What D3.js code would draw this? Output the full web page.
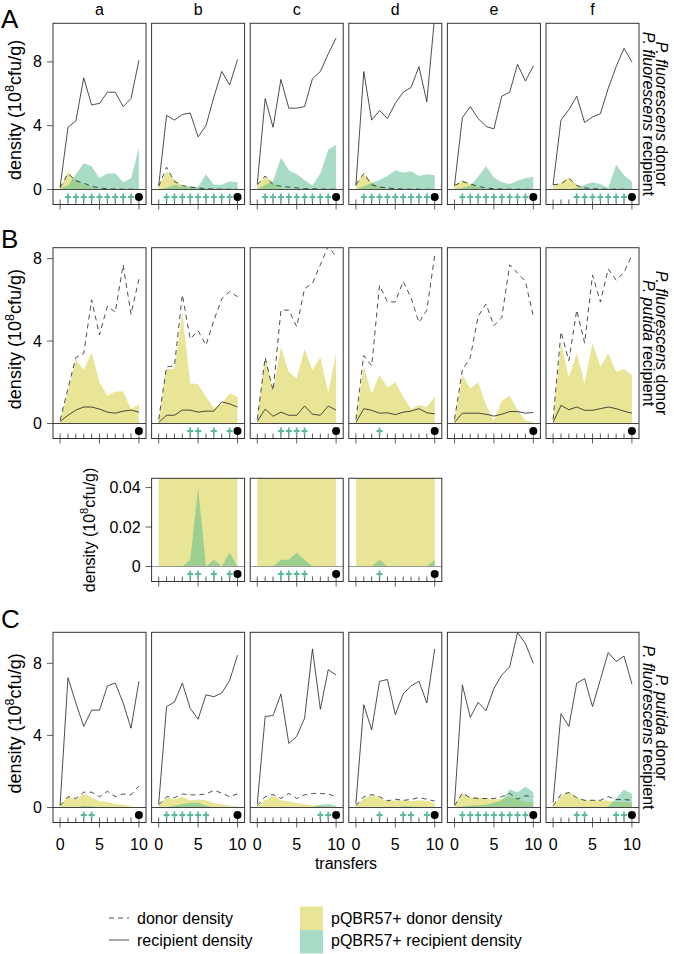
<!DOCTYPE html>
<html><head><meta charset="utf-8">
<script src="https://cdn.jsdelivr.net/npm/d3@7"></script>
<style>
body{margin:0;background:#fff}
svg{display:block}
text{font-family:"Liberation Sans",Arial,Helvetica,sans-serif;fill:#000}
</style>
</head><body>
<svg id="chart" width="674" height="954"></svg>
<script>
// ---------------- DATA ----------------
const transfers = [0,1,2,3,4,5,6,7,8,9,10];
const columns = ["a","b","c","d","e","f"];
const yTicksMain = [0,4,8];
const yTicksZoom = [0,0.02,0.04];
const xTickLabels = [0,5,10];

// Row A: P. fluorescens donor, P. fluorescens recipient
const A_donor = [
  [0.1,1.0,0.55,0.4,0.2,0.1,0.05,0.03,0.02,0.02,0.01],
  [0.2,1.4,0.5,0.25,0.15,0.1,0.05,0.03,0.02,0.02,0.01],
  [0.3,0.85,0.3,0.2,0.15,0.1,0.05,0.05,0.03,0.02,0.02],
  [0.3,1.0,0.3,0.15,0.1,0.05,0.03,0.02,0.02,0.01,0.01],
  [0.25,0.5,0.35,0.2,0.1,0.05,0.03,0.02,0.02,0.01,0.01],
  [0.3,0.35,0.7,0.25,0.1,0.05,0.03,0.02,0.02,0.01,0.01]];
const A_recipient = [
  [0.15,3.9,4.3,7.0,5.3,5.4,6.1,6.1,5.2,5.7,8.1],
  [0.25,4.65,4.35,4.7,4.8,3.3,4.0,5.8,7.4,6.55,8.15],
  [0.35,5.7,3.9,6.9,5.1,5.1,5.2,6.95,7.4,8.5,9.5],
  [0.25,7.4,4.35,4.95,4.45,5.4,6.1,6.4,7.7,5.5,10.9],
  [0.25,4.5,5.2,4.45,3.95,3.8,5.85,6.1,7.85,6.8,7.75],
  [0.3,4.35,5.0,5.85,4.2,4.55,4.75,6.35,7.7,8.85,8.0]];
const A_donorPlasmid = [
  [0.1,1.1,0.6,0.35,0.15,0.05,0.02,0,0,0,0],
  [0.2,1.15,0.6,0.25,0.1,0.05,0.02,0,0,0,0],
  [0.3,0.85,0.4,0.1,0.05,0.02,0,0,0,0,0],
  [0.3,1.0,0.45,0.15,0.05,0.02,0,0,0,0,0],
  [0.2,0.6,0.35,0.15,0.05,0.02,0,0,0,0,0],
  [0.3,0.4,0.75,0.3,0.05,0.02,0,0,0,0,0]];
const A_recipientPlasmid = [
  [0.05,0.25,0.95,1.65,1.45,0.7,1.0,1.0,0.45,0.7,2.6],
  [0,0.1,0.3,0.15,0.2,0.15,0.95,0.3,0.3,0.5,0.45],
  [0,0.3,0.5,2.0,1.2,0.95,0.6,0.25,1.0,2.5,2.8],
  [0,0.2,0.4,0.6,0.85,1.2,1.05,1.15,0.85,0.95,0.9],
  [0,0.1,0.25,0.8,1.45,0.75,0.45,0.35,0.55,0.7,0.8],
  [0,0,0,0.1,0.3,0.45,0.35,0.1,1.55,0.9,0.5]];
const A_plus = [[1,2,3,4,5,6,7,8,9],[1,2,3,4,5,6,7,8,9],[1,2,3,4,5,6,7,8,9],
  [1,2,3,4,5,6,7,8,9],[1,2,3,4,5,6,7,8,9],[3,4,5,6,7,8,9]];

// Row B: P. fluorescens donor, P. putida recipient
const B_donor = [
  [0.15,1.7,3.2,3.4,6.0,4.3,5.7,5.4,7.7,5.3,7.0],
  [0.2,2.75,2.8,6.25,4.1,4.5,3.8,5.0,6.05,6.4,6.15],
  [0.2,3.2,1.6,5.5,5.5,4.7,6.55,6.8,7.7,8.6,8.1],
  [0.2,3.3,2.8,6.7,5.9,5.9,6.9,6.1,4.9,5.5,8.15],
  [0.2,2.6,3.2,5.2,5.8,4.75,5.15,7.7,7.3,6.9,5.2],
  [0.2,4.45,3.05,5.5,3.9,7.2,5.9,7.5,6.95,7.35,8.15]];
const B_recipient = [
  [0.1,0.4,0.65,0.8,0.8,0.7,0.55,0.5,0.6,0.65,0.55],
  [0.05,0.4,0.4,0.65,0.65,0.55,0.6,0.6,1.05,0.95,0.8],
  [0.1,0.7,0.35,0.55,0.4,0.4,0.85,0.45,0.4,0.85,0.65],
  [0.05,0.72,0.64,0.5,0.52,0.43,0.55,0.6,0.72,0.52,0.47],
  [0.05,0.5,0.5,0.5,0.45,0.36,0.45,0.58,0.58,0.5,0.54],
  [0.05,0.88,0.67,0.8,0.64,0.64,0.72,0.8,0.72,0.6,0.5]];
const B_donorPlasmid = [
  [0.15,1.6,3.1,2.6,3.45,2.0,1.35,1.55,1.55,0.7,0.95],
  [0.2,2.65,2.65,5.4,1.95,1.9,1.3,0.75,0.95,1.45,1.3],
  [0.2,3.2,1.6,3.7,2.5,2.2,3.6,2.6,3.2,1.5,3.4],
  [0.2,2.75,1.45,2.35,1.75,2.0,1.3,0.7,0.9,0.8,1.3],
  [0.2,2.35,1.7,2.0,0.9,0.15,1.1,1.35,0.65,0.15,0.05],
  [0.2,3.9,2.25,3.4,1.95,3.9,2.75,3.4,2.5,2.65,2.35]];
const B_recipientPlasmid = [
  [0,0,0,0,0,0,0,0,0,0,0],
  [0,0,0,0,0.0034,0.0397,0,0.0034,0,0.007,0],
  [0,0,0,0.0034,0.0034,0.007,0.0034,0,0,0,0],
  [0,0,0,0.0034,0,0,0,0,0,0,0.0034],
  [0,0,0,0,0,0,0,0,0,0,0],
  [0,0,0,0,0,0,0,0,0,0,0]];
const B_plus = [[],[4,5,7,9],[3,4,5,6],[3],[],[]];
const B_zoomColumns = [1,2,3]; // columns b, c, d shown enlarged

// Row C: P. putida donor, P. fluorescens recipient
const C_donor = [
  [0.1,0.6,0.5,0.85,0.85,0.6,0.9,0.6,0.75,0.7,1.2],
  [0.15,0.6,0.55,0.75,0.7,0.7,0.75,0.95,0.8,0.6,0.75],
  [0.1,0.6,0.72,0.5,0.78,0.5,0.7,0.78,0.78,0.75,0.6],
  [0.1,0.6,0.72,0.6,0.37,0.46,0.4,0.44,0.55,0.46,0.35],
  [0.1,0.8,0.55,0.5,0.5,0.5,0.6,0.78,0.46,0.65,0.6],
  [0.1,0.72,0.83,0.54,0.4,0.4,0.4,0.6,0.44,0.44,0.4]];
const C_recipient = [
  [0.13,7.2,5.8,4.5,5.4,5.4,6.75,6.9,5.8,4.4,7.0],
  [0.2,5.6,5.85,6.9,5.5,4.9,6.25,6.15,6.35,7.05,8.45],
  [0.2,5.05,5.1,6.3,3.55,3.95,4.95,8.8,5.45,7.65,7.35],
  [0.2,5.7,4.3,7.0,7.1,5.15,6.3,6.75,7.0,5.8,8.8],
  [0.18,6.8,5.0,5.83,5.37,6.6,7.35,7.8,9.7,9.1,8.0],
  [0.28,5.2,4.5,6.9,7.15,5.6,7.1,8.6,8.1,8.4,6.85]];
const C_donorPlasmid = [
  [0.1,0.6,0.45,0.75,0.55,0.35,0.3,0.2,0.15,0.05,0],
  [0.15,0.55,0.45,0.6,0.4,0.45,0.4,0.25,0.18,0.1,0.05],
  [0.1,0.4,0.65,0.4,0.35,0.25,0.18,0.12,0.1,0.05,0.02],
  [0.1,0.5,0.68,0.55,0.35,0.4,0.4,0.35,0.4,0.37,0.22],
  [0.1,0.78,0.55,0.55,0.5,0.46,0.46,0.6,0.46,0.28,0.3],
  [0.1,0.63,0.87,0.55,0.4,0.4,0.4,0.37,0.3,0.3,0.27]];
const C_recipientPlasmid = [
  [0,0,0,0.1,0.05,0,0,0,0,0,0],
  [0,0,0.1,0.2,0.25,0.28,0.1,0,0,0,0],
  [0,0,0,0,0,0,0,0,0.15,0.2,0.1],
  [0,0,0,0,0,0,0.05,0.05,0,0,0],
  [0,0.05,0.1,0.12,0.15,0.25,0.4,1.0,0.85,1.15,0.85],
  [0,0,0,0,0,0,0,0.05,0.5,1.0,0.75]];
const C_plus = [[3,4],[1,2,3,4,5,6],[8,9],[3,6,7,9],[1,2,3,4,5,6,7,8,9],[3,4,8,9]];

const rowLabels = [
  ["P. fluorescens"," donor","P. fluorescens"," recipient"],
  ["P. fluorescens"," donor","P. putida"," recipient"],
  ["P. putida"," donor","P. fluorescens"," recipient"]];
const legendLines = ["donor density","recipient density"];
const legendFills = ["pQBR57+ donor density","pQBR57+ recipient density"];

// ---------------- STYLE / LAYOUT ----------------
const YELLOW = "rgb(209,203,47)", GREEN = "rgb(81,185,137)", FILL_OP = 0.5;
const PLUS = "#5cbb94";
const left0 = 53, step = 98.6, panelW = 93, band = 15;
const svg = d3.select("#chart");
const defs = svg.append("defs");

const rows = [
  {id:"A", top:23.3, zero:189.5, ymax:10.42, ticks:yTicksMain, cols:[0,1,2,3,4,5],
   donor:A_donor, rec:A_recipient, dp:A_donorPlasmid, rp:A_recipientPlasmid, plus:A_plus, zeroColor:"#444", xlabels:false},
  {id:"B", top:247.7, zero:423.5, ymax:8.53, ticks:yTicksMain, cols:[0,1,2,3,4,5],
   donor:B_donor, rec:B_recipient, dp:B_donorPlasmid, rp:B_recipientPlasmid, plus:B_plus, zeroColor:"#444", xlabels:false},
  {id:"Bz", top:478.3, zero:566.5, ymax:0.0447, ticks:yTicksZoom, cols:B_zoomColumns,
   donor:B_donor, rec:B_recipient, dp:B_donorPlasmid, rp:B_recipientPlasmid, plus:B_plus, zeroColor:"#999", xlabels:false},
  {id:"C", top:632.3, zero:807.5, ymax:9.72, ticks:yTicksMain, cols:[0,1,2,3,4,5],
   donor:C_donor, rec:C_recipient, dp:C_donorPlasmid, rp:C_recipientPlasmid, plus:C_plus, zeroColor:"#444", xlabels:true}
];

const fmt = v => (v === 0 ? "0" : (Math.abs(v) < 1 ? String(v) : d3.format("d")(v)));

rows.forEach((row, ri) => {
  const bottom = row.zero + band;
  row.cols.forEach((ci, k) => {
    const left = left0 + ci * step;
    const x = d3.scaleLinear().domain([-0.9, 10.9]).range([left, left + panelW]);
    const y = d3.scaleLinear().domain([0, row.ymax]).range([row.zero, row.top]);
    const g = svg.append("g");
    const clipId = `clip-${row.id}-${ci}`;
    defs.append("clipPath").attr("id", clipId).append("rect")
      .attr("x", left).attr("y", row.top).attr("width", panelW).attr("height", row.zero - row.top);
    const data = g.append("g").attr("clip-path", `url(#${clipId})`);
    const area = arr => d3.area().x((d, i) => x(transfers[i])).y0(y(0)).y1(d => y(d))(arr);
    const line = arr => d3.line().x((d, i) => x(transfers[i])).y(d => y(d))(arr);
    data.append("path").attr("d", area(row.dp[ci])).attr("fill", YELLOW).attr("fill-opacity", FILL_OP);
    data.append("path").attr("d", area(row.rp[ci])).attr("fill", GREEN).attr("fill-opacity", FILL_OP);
    data.append("path").attr("d", line(row.donor[ci])).attr("fill", "none")
      .attr("stroke", "#222").attr("stroke-width", 0.8).attr("stroke-dasharray", "5,4");
    data.append("path").attr("d", line(row.rec[ci])).attr("fill", "none")
      .attr("stroke", "#222").attr("stroke-width", 0.8);

    // zero line
    g.append("line").attr("x1", left).attr("x2", left + panelW)
      .attr("y1", y(0)).attr("y2", y(0)).attr("stroke", row.zeroColor).attr("stroke-width", 1);

    // inner ticks in the marker band
    g.selectAll(".itick").data(transfers).join("line")
      .attr("x1", d => x(d)).attr("x2", d => x(d))
      .attr("y1", bottom).attr("y2", bottom - 5)
      .attr("stroke", "#333").attr("stroke-width", 0.8);
    // plus markers
    const mid = (row.zero + bottom) / 2;
    g.selectAll(".plus").data(row.plus[ci]).join("path")
      .attr("d", d => `M${x(d) - 3},${mid}H${x(d) + 3}M${x(d)},${mid - 3.5}V${mid + 4}`)
      .attr("stroke", PLUS).attr("stroke-width", 1.8).attr("fill", "none");
    // end dot
    g.append("circle").attr("cx", x(10)).attr("cy", mid).attr("r", 4).attr("fill", "#000");

    // outer x ticks
    g.selectAll(".otick").data(xTickLabels).join("line")
      .attr("x1", d => x(d)).attr("x2", d => x(d))
      .attr("y1", bottom).attr("y2", bottom + 5)
      .attr("stroke", "#333").attr("stroke-width", 0.8);
    if (row.xlabels) {
      g.selectAll(".xl").data(xTickLabels).join("text")
        .attr("x", d => x(d)).attr("y", bottom + 27).attr("text-anchor", "middle")
        .attr("font-size", 16).text(d => d);
    }

    // frame
    g.append("rect").attr("x", left).attr("y", row.top).attr("width", panelW)
      .attr("height", bottom - row.top).attr("fill", "none").attr("stroke", "#333").attr("stroke-width", 1);

    // y axis on first panel of row
    if (k === 0) {
      g.selectAll(".yt").data(row.ticks).join("line")
        .attr("x1", left - 6).attr("x2", left).attr("y1", d => y(d)).attr("y2", d => y(d))
        .attr("stroke", "#333").attr("stroke-width", 0.8);
      g.selectAll(".yl").data(row.ticks).join("text")
        .attr("x", left - 11).attr("y", d => y(d) + 5.5).attr("text-anchor", "end")
        .attr("font-size", 16).text(d => fmt(d));
      const isZoom = row.id === "Bz";
      const lx = isZoom ? 95 : 21;
      const fs = isZoom ? 16 : 18;
      const cy = isZoom ? (row.top + bottom) / 2 : (row.top + bottom) / 2 - 4;
      const t = g.append("text").attr("transform", `translate(${lx},${cy}) rotate(-90)`)
        .attr("text-anchor", "middle").attr("font-size", fs);
      t.append("tspan").text("density (10");
      t.append("tspan").attr("dy", -7).attr("font-size", fs * 0.7).text("8");
      t.append("tspan").attr("dy", 7).text("cfu/g)");
    }
    // column letters
    if (row.id === "A") {
      svg.append("text").attr("x", left + panelW / 2).attr("y", 15).attr("text-anchor", "middle")
        .attr("font-size", 16).text(columns[ci]);
    }
  });
  // panel letter + right labels
  if (row.id !== "Bz") {
    const letterY = {A:28, B:248, C:628}[row.id];
    svg.append("text").attr("x", 1).attr("y", letterY).attr("font-size", 26).text(row.id);
    const lab = rowLabels[["A","B","C"].indexOf(row.id)];
    const cy = (row.top + bottom) / 2;
    [[lab[0], lab[1], 656], [lab[2], lab[3], 643]].forEach(([sp, rest, lx]) => {
      const t = svg.append("text").attr("transform", `translate(${lx},${cy}) rotate(90)`)
        .attr("text-anchor", "middle").attr("font-size", 16);
      t.append("tspan").attr("font-style", "italic").text(sp);
      t.append("tspan").text(rest);
    });
  }
});

// x axis title
svg.append("text").attr("x", left0 + (5 * step + panelW) / 2).attr("y", 869)
  .attr("text-anchor", "middle").attr("font-size", 16).text("transfers");

// legend
const lg = svg.append("g");
legendLines.forEach((t, i) => {
  const yy = 918 + i * 22;
  lg.append("line").attr("x1", 109).attr("x2", 129).attr("y1", yy).attr("y2", yy)
    .attr("stroke", "#222").attr("stroke-width", 0.8).attr("stroke-dasharray", i === 0 ? "5,4" : null);
  lg.append("text").attr("x", 137).attr("y", yy + 5.5).attr("font-size", 16).text(t);
});
legendFills.forEach((t, i) => {
  const yy = 918 + i * 22;
  lg.append("rect").attr("x", 300).attr("y", 906.5 + i * 23.5).attr("width", 23).attr("height", 23.5)
    .attr("fill", i === 0 ? YELLOW : GREEN).attr("fill-opacity", FILL_OP);
  lg.append("text").attr("x", 331).attr("y", yy + 5.5).attr("font-size", 16).text(t);
});
</script>
</body></html>
